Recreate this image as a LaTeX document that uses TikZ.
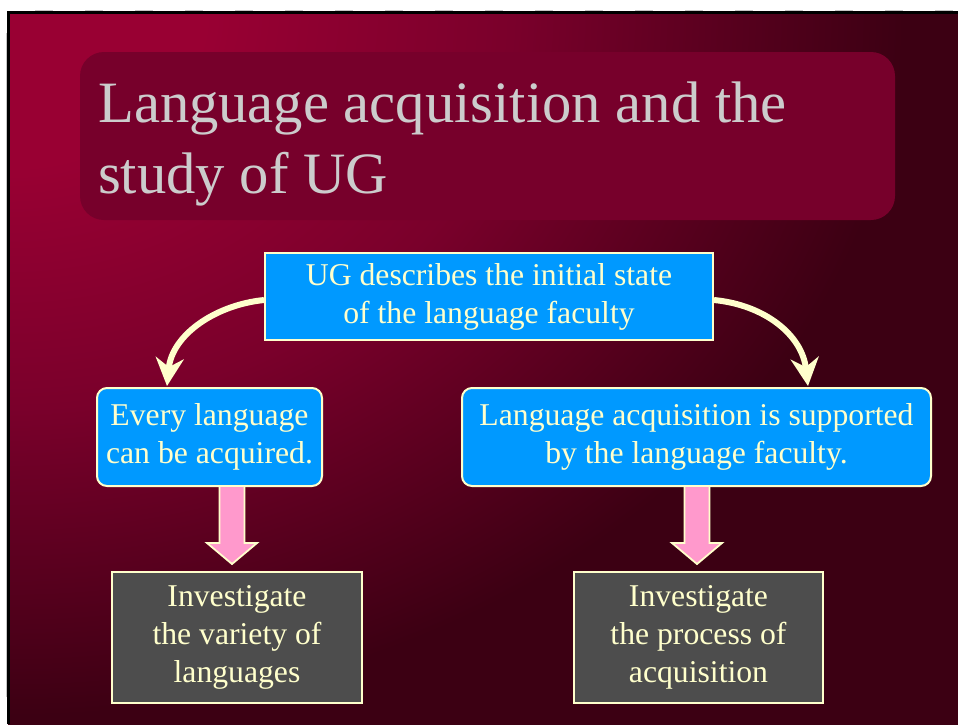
\documentclass[tikz,border=0pt]{standalone}
\usepackage{fontspec}
\setmainfont{Liberation Serif}
\usetikzlibrary{arrows.meta,calc}

\definecolor{crimsonA}{HTML}{990033}
\definecolor{crimsonM}{HTML}{7A002B}
\definecolor{wineDark}{HTML}{3C0013}
\definecolor{titlefill}{HTML}{77002B}
\definecolor{cream}{HTML}{FFFFCC}
\definecolor{skyblue}{HTML}{0099FF}
\definecolor{slate}{HTML}{4D4D4D}
\definecolor{rosepink}{HTML}{FF99CC}
\definecolor{titlegray}{HTML}{CCCCCC}

% background glow, bright in the upper left corner
\pgfdeclareradialshading{slidebg}{\pgfpoint{0bp}{0bp}}{%
  color(0bp)=(crimsonA); color(3.5bp)=(crimsonA);
  color(9bp)=(crimsonM); color(16bp)=(wineDark); color(50bp)=(wineDark)}

\begin{document}
\begin{tikzpicture}[x=1pt,y=-1pt,
  bodytext/.style={font=\fontsize{31.7}{38}\selectfont, text=cream,
    align=center, inner sep=0pt},
  bluebox/.style={bodytext, fill=skyblue, draw=cream, line width=2pt},
  greybox/.style={bodytext, fill=slate, draw=cream, line width=2pt},
  titlepanel/.style={fill=titlefill, rounded corners=24pt, inner sep=0pt,
    minimum width=815pt, minimum height=168pt},
  titletext/.style={font=\fontsize{58.6}{70}\selectfont, text=titlegray,
    inner sep=0pt, anchor=base west},
  curvearrow/.style={draw=cream, line width=6pt,
    -{Stealth[length=28pt,width=28pt,inset=9pt]}},
  blockarrow/.style={fill=rosepink, draw=cream, line width=1.8pt,
    line join=miter},
]
\useasboundingbox (0,0) rectangle (958,724);
\fill[white] (0,0) rectangle (958,724);

% slide background
\begin{scope}
  \clip (8,12) rectangle (958,724);
  \fill[wineDark] (8,12) rectangle (958,724);
  \shade[shading=slidebg] (8,12) ellipse [x radius=1400pt, y radius=1100pt];
\end{scope}
\draw[black, line width=3pt] (8.5,724) -- (8.5,12.5) -- (958,12.5);
\draw[gray!45, line width=1.2pt, dash pattern=on 18pt off 32pt] (35,10.3) -- (958,10.3);
\draw[gray!45, line width=1.2pt] (6.3,33) -- (6.3,697);

% title
\node[titlepanel] (panel) at (487.5,136) {};
\node[titletext] (title1) at (98,122) {Language acquisition and the};
\node[titletext] (title2) at (98,193) {study of UG};

% boxes
\node[bluebox, minimum width=448pt, minimum height=87pt] (ug) at (489,296.5)
  {UG describes the initial state\\of the language faculty};
\node[bluebox, rounded corners=10pt, minimum width=225pt, minimum height=98pt] (every) at (209.5,437)
  {Every language\\can be acquired.};
\node[bluebox, rounded corners=10pt, minimum width=469pt, minimum height=98pt] (supp) at (696.5,437)
  {Language acquisition is supported\\by the language faculty.};
\node[greybox, minimum width=250pt, minimum height=131pt] (variety) at (237,637.5)
  {Investigate\\the variety of\\languages};
\node[greybox, minimum width=249pt, minimum height=131pt] (process) at (698.5,637.5)
  {Investigate\\the process of\\acquisition};

% curved arrows from the top box
\coordinate (ltip) at (167,386);
\coordinate (rtip) at (808,386);
\draw[curvearrow] ([yshift=-3.5pt]ug.west) .. controls (215,305) and (172,335) .. (ltip);
\draw[curvearrow] ([yshift=-3.5pt]ug.east) .. controls (765,305) and (802,335) .. (rtip);

% block arrows
\coordinate (lpa) at (232,486);
\coordinate (rpa) at (697,486);
\draw[blockarrow] (lpa) ++(-12.5,0) -- ++(0,57) -- ++(-12.5,0) -- ++(25,21)
  -- ++(25,-21) -- ++(-12.5,0) -- ++(0,-57) -- cycle;
\draw[blockarrow] (rpa) ++(-12.5,0) -- ++(0,57) -- ++(-12.5,0) -- ++(25,21)
  -- ++(25,-21) -- ++(-12.5,0) -- ++(0,-57) -- cycle;
\end{tikzpicture}
\end{document}
